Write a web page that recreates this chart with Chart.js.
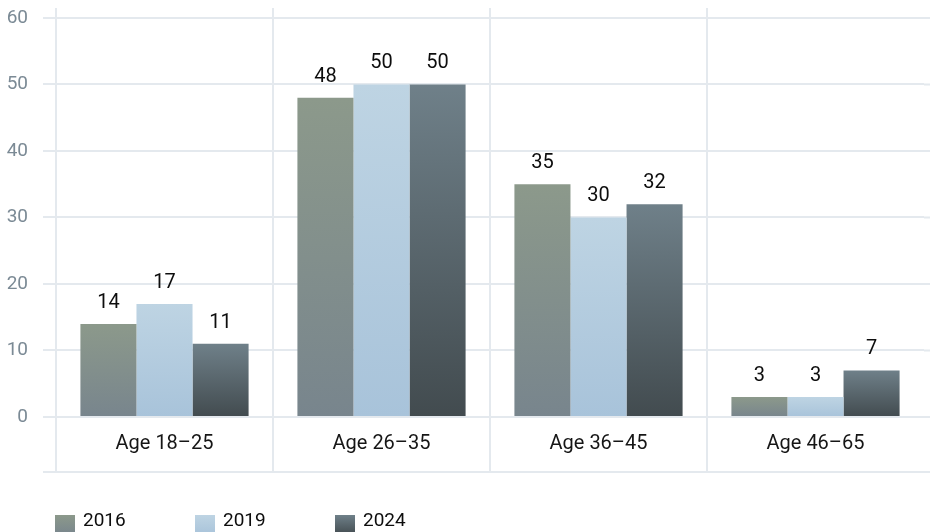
<!DOCTYPE html>
<html>
<head>
<meta charset="utf-8">
<script src="https://cdn.jsdelivr.net/npm/chart.js@4.4.1/dist/chart.umd.min.js"></script>
<style>
  html, body { margin: 0; padding: 0; background: #fff; }
  #wrap { position: relative; width: 930px; height: 532px; overflow: hidden; }
  #legend { position: absolute; left: 0; top: 0; width: 930px; height: 532px; pointer-events: none; }
  .lg-box { position: absolute; top: 515px; width: 20px; height: 20px; }
  .lg-txt { position: absolute; top: 508px; font: 19px Roboto, sans-serif; line-height: 24px; color: #0d0d0d; }
</style>
</head>
<body>
<div id="wrap">
  <canvas id="chart" width="930" height="532"></canvas>
  <div id="legend"></div>
</div>
<script>
const categories = ['Age 18–25', 'Age 26–35', 'Age 36–45', 'Age 46–65'];
const years = ['2016', '2019', '2024'];
const values2016 = [14, 48, 35, 3];
const values2019 = [17, 50, 30, 3];
const values2024 = [11, 50, 32, 7];
const yTicks = [0, 10, 20, 30, 40, 50, 60];

const gridColor = '#e4e9ee';
const fills = [
  { top: '#8c998b', bottom: '#78858d' },
  { top: '#bed4e3', bottom: '#a8c3da' },
  { top: '#6f8089', bottom: '#424b4f' },
];

function barFill(i) {
  return (ctx) => {
    const chart = ctx.chart;
    const y = chart.scales.y;
    if (!y || ctx.parsed == null || ctx.parsed.y == null) return fills[i].top;
    const top = y.getPixelForValue(ctx.parsed.y);
    const bottom = y.getPixelForValue(0);
    if (!isFinite(top) || !isFinite(bottom) || top === bottom) return fills[i].top;
    const g = chart.ctx.createLinearGradient(0, top, 0, bottom);
    g.addColorStop(0, fills[i].top);
    g.addColorStop(1, fills[i].bottom);
    return g;
  };
}

// numbers above each bar
const valueLabels = {
  id: 'valueLabels',
  afterDatasetsDraw(chart) {
    const c = chart.ctx;
    c.save();
    c.font = '20px Roboto, sans-serif';
    c.fillStyle = '#0d0d0d';
    c.textAlign = 'center';
    c.textBaseline = 'alphabetic';
    chart.data.datasets.forEach((ds, di) => {
      chart.getDatasetMeta(di).data.forEach((el, i) => {
        c.fillText(String(ds.data[i]), el.x, el.y - 16);
      });
    });
    c.restore();
  },
};

// line closing the category label band + grid running out to the right edge
const extraRules = {
  id: 'extraRules',
  beforeDatasetsDraw(chart) {
    const c = chart.ctx;
    const area = chart.chartArea;
    c.save();
    c.strokeStyle = gridColor;
    c.lineWidth = 2;
    c.beginPath();
    const by = chart.scales.x.top + 55;
    c.moveTo(area.left - 13, by);
    c.lineTo(chart.width, by);
    chart.scales.y.ticks.forEach((t) => {
      const py = chart.scales.y.getPixelForValue(t.value);
      c.moveTo(area.right, py);
      c.lineTo(chart.width, py);
    });
    c.stroke();
    c.restore();
  },
};

const series = [values2016, values2019, values2024];

new Chart(document.getElementById('chart'), {
  type: 'bar',
  data: {
    labels: categories,
    datasets: years.map((yr, i) => ({
      label: yr,
      data: series[i],
      backgroundColor: barFill(i),
      borderWidth: 0,
      barPercentage: 1,
      categoryPercentage: 0.775,
    })),
  },
  options: {
    responsive: false,
    animation: false,
    layout: { padding: { left: 0, right: 6, top: 8, bottom: 60 } },
    plugins: { legend: { display: false }, tooltip: { enabled: false } },
    scales: {
      x: {
        offset: true,
        grid: {
          offset: true,
          // the closing line after the last category has no tick context
          color: (ctx) => (ctx.tick ? gridColor : 'rgba(0,0,0,0)'),
          lineWidth: 2,
          tickLength: 55,
        },
        border: { display: false },
        ticks: { color: '#161616', font: { family: 'Roboto', size: 20 }, padding: -40 },
        afterFit(scale) { scale.height = 55; },
      },
      y: {
        min: 0,
        max: 61.5,
        afterBuildTicks(scale) { scale.ticks = yTicks.map((v) => ({ value: v })); },
        grid: { color: gridColor, lineWidth: 2, tickLength: 13 },
        border: { display: false },
        ticks: { color: '#7b8a95', font: { family: 'Roboto', size: 19 }, padding: 15 },
        afterFit(scale) {
          scale.width = 56;
          scale.paddingTop = 0;
          scale.paddingBottom = 0;
        },
      },
    },
  },
  plugins: [valueLabels, extraRules],
});

// legend
const legend = document.getElementById('legend');
const legendX = [55, 195, 335];
years.forEach((yr, i) => {
  const box = document.createElement('div');
  box.className = 'lg-box';
  box.style.left = legendX[i] + 'px';
  box.style.background = `linear-gradient(${fills[i].top}, ${fills[i].bottom})`;
  legend.appendChild(box);
  const t = document.createElement('div');
  t.className = 'lg-txt';
  t.style.left = (legendX[i] + 28) + 'px';
  t.textContent = yr;
  legend.appendChild(t);
});
</script>
</body>
</html>
